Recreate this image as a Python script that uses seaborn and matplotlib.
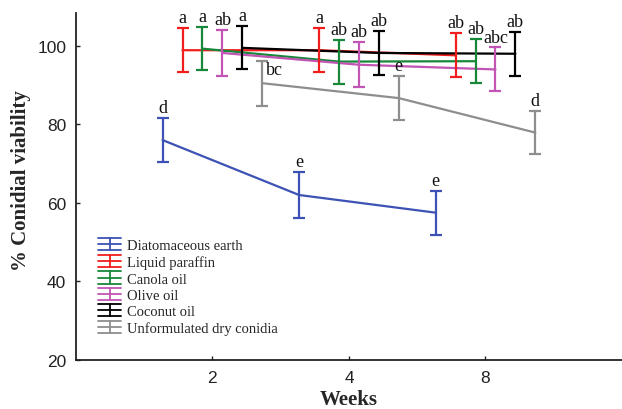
import numpy as np
import pandas as pd
import matplotlib
matplotlib.use("Agg")
import matplotlib.pyplot as plt
import seaborn as sns
from matplotlib.lines import Line2D
from matplotlib.legend_handler import HandlerBase

# data
weeks = ["2", "4", "8"]
treatments = ["Diatomaceous earth", "Liquid paraffin", "Canola oil",
              "Olive oil", "Coconut oil", "Unformulated dry conidia"]

de_mean = [76.0, 62.0, 57.5]
de_err = [5.7, 5.8, 5.6]
lp_mean = [98.9, 98.9, 97.6]
lp_err = [5.6, 5.6, 5.6]
canola_mean = [99.3, 96.0, 96.1]
canola_err = [5.5, 5.6, 5.6]
olive_mean = [98.2, 95.2, 94.0]
olive_err = [5.8, 5.7, 5.6]
coconut_mean = [99.5, 98.2, 98.0]
coconut_err = [5.5, 5.6, 5.6]
dry_mean = [90.5, 86.7, 77.9]
dry_err = [5.7, 5.6, 5.5]

de_letters = ["d", "e", "e"]
lp_letters = ["a", "a", "ab"]
canola_letters = ["a", "ab", "ab"]
olive_letters = ["ab", "ab", "abc"]
coconut_letters = ["a", "ab", "ab"]
dry_letters = ["bc", "e", "d"]

means = [de_mean, lp_mean, canola_mean, olive_mean, coconut_mean, dry_mean]
errs = [de_err, lp_err, canola_err, olive_err, coconut_err, dry_err]
letters = [de_letters, lp_letters, canola_letters, olive_letters,
           coconut_letters, dry_letters]
colors = ["#3d52b4", "#f21d1d", "#17873a", "#c154b4", "#000000", "#8e8e8e"]


class HandlerIBar(HandlerBase):
    # legend key: horizontal line with an error bar through it
    def create_artists(self, legend, orig_handle, xdescent, ydescent,
                       width, height, fontsize, trans):
        c = orig_handle.get_color()
        x0, x1 = -xdescent, -xdescent + width
        ym = -ydescent + height / 2
        dy = height * 0.6
        xm = (x0 + x1) / 2
        segs = [([x0, x1], [ym, ym]), ([x0, x1], [ym + dy, ym + dy]),
                ([x0, x1], [ym - dy, ym - dy]), ([xm, xm], [ym - dy, ym + dy])]
        arts = []
        for xs, ys in segs:
            ln = Line2D(xs, ys, color=c, lw=1.3)
            ln.set_transform(trans)
            arts.append(ln)
        return arts


# long table for seaborn
rows = []
offsets = np.linspace(-0.365, 0.365, len(treatments))
for i, name in enumerate(treatments):
    for j, w in enumerate(weeks):
        rows.append({"Treatment": name, "Week": w, "pos": j + offsets[i],
                     "mean": means[i][j], "err": errs[i][j],
                     "letter": letters[i][j]})
df = pd.DataFrame(rows)

sns.set_style("ticks")
fig = plt.figure(figsize=(6.22, 4.10), dpi=100)
ax = fig.add_axes([0.122, 0.12, 0.878, 0.846])

sns.lineplot(data=df, x="pos", y="mean", hue="Treatment", hue_order=treatments,
             palette=colors, linewidth=1.6, legend=False, ax=ax, sort=True)

for i, name in enumerate(treatments):
    sub = df[df["Treatment"] == name]
    ax.errorbar(sub["pos"], sub["mean"], yerr=sub["err"], fmt="none",
                ecolor=colors[i], elinewidth=1.6, capsize=4.3, capthick=1.6)
    for _, r in sub.iterrows():
        tx, ty = r["pos"], r["mean"] + r["err"] + 0.5
        if r["letter"] == "bc":
            tx, ty = r["pos"] + 0.09, r["mean"] + 1.2
        ax.text(tx, ty, r["letter"], ha="center", va="bottom",
                fontsize=13, family="Liberation Serif", color="#111111")

ax.set_xlim(-1, 3)
ax.set_ylim(20, 108.4)
ax.set_xticks(range(len(weeks)))
ax.set_xticklabels(weeks)
ax.set_yticks([20, 40, 60, 80, 100])
ax.tick_params(direction="in", length=3, width=1, labelsize=12.5, pad=7,
               colors="#222222")
for lab in ax.get_xticklabels() + ax.get_yticklabels():
    lab.set_family("Liberation Sans")
ax.spines["right"].set_visible(False)
ax.spines["top"].set_visible(False)
for s in ["left", "bottom"]:
    ax.spines[s].set_linewidth(1.3)
    ax.spines[s].set_color("#222222")

ax.set_xlabel("Weeks", fontsize=15, fontweight="bold",
              family="Liberation Serif", labelpad=3)
ax.set_ylabel("% Conidial viability", fontsize=15, fontweight="bold",
              family="Liberation Serif")
ax.yaxis.set_label_coords(-0.083, 0.52)

proxies = [Line2D([], [], color=c) for c in colors]
ax.legend(handles=proxies, labels=treatments, loc="upper left",
          bbox_to_anchor=(0.03, 0.365), frameon=False,
          prop={"family": "Liberation Serif", "size": 10.5},
          handlelength=1.6, handletextpad=0.35, labelspacing=0.22,
          borderaxespad=0, handler_map={Line2D: HandlerIBar()})

fig.savefig("out.png", dpi=100)
